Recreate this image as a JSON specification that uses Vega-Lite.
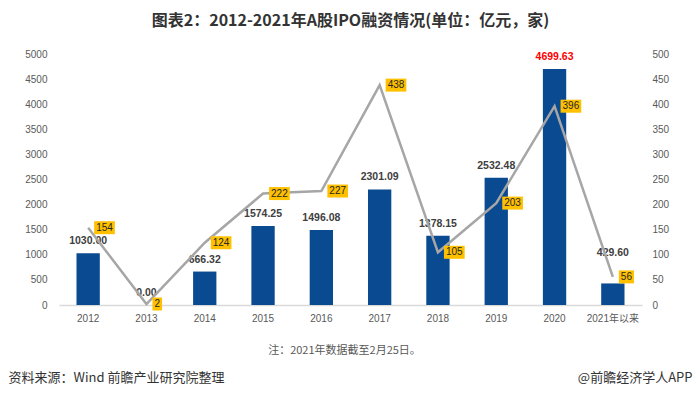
{
  "$schema": "https://vega.github.io/schema/vega-lite/v6.json",
  "width": 583,
  "height": 251,
  "autosize": {"type": "none"},
  "padding": {"left": 59, "top": 54, "right": 58, "bottom": 92},
  "background": "white",
  "title": {
    "text": "图表2：2012-2021年A股IPO融资情况(单位：亿元，家)",
    "font": "Noto Sans CJK SC",
    "fontSize": 16,
    "fontWeight": "bold",
    "color": "#333333",
    "anchor": "middle",
    "frame": "group",
    "offset": 20
  },
  "data": {
    "values": [
      {"year": "2012", "amount": 1030.00, "count": 154},
      {"year": "2013", "amount": 0.00, "count": 2},
      {"year": "2014", "amount": 666.32, "count": 124},
      {"year": "2015", "amount": 1574.25, "count": 222},
      {"year": "2016", "amount": 1496.08, "count": 227},
      {"year": "2017", "amount": 2301.09, "count": 438},
      {"year": "2018", "amount": 1378.15, "count": 105},
      {"year": "2019", "amount": 2532.48, "count": 203},
      {"year": "2020", "amount": 4699.63, "count": 396},
      {"year": "2021年以来", "amount": 429.60, "count": 56}
    ]
  },
  "resolve": {"scale": {"y": "independent"}},
  "encoding": {
    "x": {
      "field": "year",
      "type": "ordinal",
      "sort": null,
      "scale": {"paddingInner": 0.6, "paddingOuter": 0.3},
      "axis": {
        "title": "注：2021年数据截至2月25日。",
        "titleX": 285,
        "titleY": 45,
        "titleBaseline": "middle",
        "titleFontSize": 11,
        "titleColor": "#595959",
        "domain": true,
        "domainColor": "#D9D9D9",
        "domainWidth": 1.5,
        "labelAngle": 0,
        "labelPadding": 8,
        "labelFont": "Liberation Sans, Noto Sans CJK SC"
      }
    }
  },
  "layer": [
    {
      "encoding": {
        "y": {
          "field": "amount",
          "type": "quantitative",
          "scale": {"domain": [0, 5000]},
          "axis": {
            "values": [0, 500, 1000, 1500, 2000, 2500, 3000, 3500, 4000, 4500, 5000],
            "format": "d",
            "labelPadding": 12,
            "title": "@前瞻经济学人APP",
            "titleAngle": 0,
            "titleAlign": "right",
            "titleBaseline": "middle",
            "titleX": 633,
            "titleY": 323,
            "titleFontSize": 13,
            "titleColor": "#333333"
          }
        }
      },
      "layer": [
        {"mark": {"type": "bar", "color": "#0A4A90"}},
        {
          "transform": [{"filter": "datum.year !== '2021年以来'"}],
          "mark": {"type": "text", "font": "Liberation Sans", "fontSize": 10.5, "fontWeight": "bold", "baseline": "alphabetic", "dy": -9},
          "encoding": {
            "text": {"field": "amount", "type": "quantitative", "format": ".2f"},
            "color": {"condition": {"test": "datum.year === '2020'", "value": "#FF0000"}, "value": "#404040"}
          }
        },
        {
          "transform": [{"filter": "datum.year === '2021年以来'"}],
          "mark": {"type": "text", "font": "Liberation Sans", "fontSize": 10.5, "fontWeight": "bold", "baseline": "alphabetic", "dy": -27, "color": "#404040"},
          "encoding": {
            "text": {"field": "amount", "type": "quantitative", "format": ".2f"}
          }
        }
      ]
    },
    {
      "encoding": {
        "y": {
          "field": "count",
          "type": "quantitative",
          "scale": {"domain": [0, 500]},
          "axis": {
            "orient": "right",
            "values": [0, 50, 100, 150, 200, 250, 300, 350, 400, 450, 500],
            "format": "d",
            "labelPadding": 10,
            "title": "资料来源：Wind 前瞻产业研究院整理",
            "titleAngle": 0,
            "titleAlign": "left",
            "titleBaseline": "middle",
            "titleX": -634,
            "titleY": 323,
            "titleFontSize": 13,
            "titleColor": "#333333"
          }
        }
      },
      "layer": [
        {"mark": {"type": "line", "color": "#A6A6A6", "strokeWidth": 2.5}},
        {
          "transform": [{"calculate": "length(toString(datum.count))", "as": "ndig"}],
          "mark": {"type": "point", "filled": true, "opacity": 1, "size": 400, "color": "#FFC000", "strokeWidth": 0},
          "encoding": {
            "shape": {
              "field": "ndig",
              "type": "nominal",
              "scale": {
                "domain": [1, 2, 3],
                "range": ["M0.6,-0.65H1.56V0.65H0.6Z", "M0.6,-0.65H2.11V0.65H0.6Z", "M0.6,-0.65H2.67V0.65H0.6Z"]
              },
              "legend": null
            }
          }
        },
        {
          "mark": {"type": "text", "font": "Liberation Sans", "fontSize": 10, "align": "left", "baseline": "middle", "dx": 8, "color": "#262626"},
          "encoding": {"text": {"field": "count", "type": "quantitative"}}
        }
      ]
    }
  ],
  "config": {
    "view": {"stroke": null},
    "axis": {
      "labelFont": "Liberation Sans",
      "labelFontSize": 10,
      "labelColor": "#595959",
      "ticks": false,
      "grid": false,
      "domain": false,
      "titleFont": "Noto Sans CJK SC",
      "titleFontWeight": "normal"
    }
  }
}
